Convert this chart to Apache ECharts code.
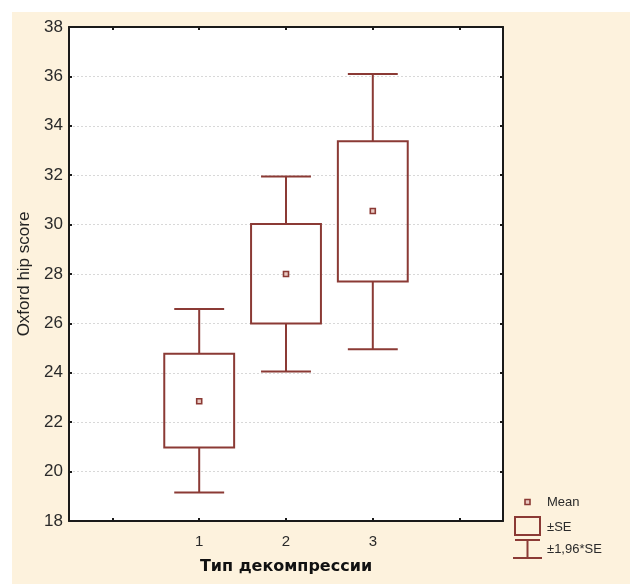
<!DOCTYPE html>
<html>
<head>
<meta charset="utf-8">
<script src="https://cdn.jsdelivr.net/npm/echarts@6/dist/echarts.min.js"></script>
<style>
html,body{margin:0;padding:0;background:#fff;}
#c{width:630px;height:584px;}
</style>
</head>
<body>
<div id="c"></div>
<script>
// Data
var categories = ['', '1', '2', '3', ''];
var groupIndex = [1, 2, 3];
var means  = [22.85, 28.0, 30.55];
var seLow  = [20.98, 26.0, 27.70];
var seHigh = [24.77, 30.02, 33.37];
var ciLow  = [19.15, 24.05, 24.95];
var ciHigh = [26.58, 31.95, 36.10];
var yTicks = [18, 20, 22, 24, 26, 28, 30, 32, 34, 36, 38];

var COLOR = '#8b3a35';
var FONT = "'Liberation Sans', Arial, sans-serif";

var seriesData = groupIndex.map(function (g, i) {
  return [g, ciLow[i], seLow[i], means[i], seHigh[i], ciHigh[i]];
});

function renderItem(params, api) {
  var x = api.value(0);
  var pCiL = api.coord([x, api.value(1)]);
  var pSeL = api.coord([x, api.value(2)]);
  var pM   = api.coord([x, api.value(3)]);
  var pSeH = api.coord([x, api.value(4)]);
  var pCiH = api.coord([x, api.value(5)]);
  var band = api.size([1, 0])[0];
  var bw = band * 0.805, cw = band * 0.575;
  var cx = pM[0];
  var ls = { stroke: COLOR, lineWidth: 2, fill: null };
  return {
    type: 'group',
    children: [
      { type: 'line', shape: { x1: cx, y1: pCiH[1], x2: cx, y2: pSeH[1] }, style: ls },
      { type: 'line', shape: { x1: cx - cw / 2, y1: pCiH[1], x2: cx + cw / 2, y2: pCiH[1] }, style: ls },
      { type: 'line', shape: { x1: cx, y1: pSeL[1], x2: cx, y2: pCiL[1] }, style: ls },
      { type: 'line', shape: { x1: cx - cw / 2, y1: pCiL[1], x2: cx + cw / 2, y2: pCiL[1] }, style: ls },
      { type: 'rect', shape: { x: cx - bw / 2, y: pSeH[1], width: bw, height: pSeL[1] - pSeH[1] }, style: { stroke: COLOR, lineWidth: 2, fill: null } },
      { type: 'rect', shape: { x: cx - 2.5, y: pM[1] - 2.5, width: 5, height: 5 }, style: { stroke: COLOR, lineWidth: 1.6, fill: '#e8c8c0' } }
    ]
  };
}

var chart = echarts.init(document.getElementById('c'), null, { renderer: 'canvas' });

var axisLineStyle = { show: true, lineStyle: { color: '#1a1a1a', width: 2 } };
var tickIn = { show: true, inside: true, length: 3, lineStyle: { color: '#1a1a1a', width: 2 } };

chart.setOption({
  backgroundColor: 'transparent',
  animation: false,
  graphic: [
    { type: 'rect', z: -10, silent: true, shape: { x: 12, y: 12, width: 618, height: 572 }, style: { fill: '#fdf2dd' } },
    // legend
    { type: 'rect', z: 10, shape: { x: 525, y: 499.5, width: 5, height: 5 }, style: { stroke: COLOR, lineWidth: 1.6, fill: '#e8c8c0' } },
    { type: 'text', z: 10, style: { x: 547, y: 502, text: 'Mean', fill: '#2a2a2a', font: "13px " + FONT, verticalAlign: 'middle' } },
    { type: 'rect', z: 10, shape: { x: 515, y: 517, width: 25, height: 18 }, style: { stroke: COLOR, lineWidth: 2, fill: null } },
    { type: 'text', z: 10, style: { x: 547, y: 527, text: '±SE', fill: '#2a2a2a', font: "13px " + FONT, verticalAlign: 'middle' } },
    { type: 'line', z: 10, shape: { x1: 515, y1: 540, x2: 540, y2: 540 }, style: { stroke: COLOR, lineWidth: 2 } },
    { type: 'line', z: 10, shape: { x1: 527.5, y1: 540, x2: 527.5, y2: 558 }, style: { stroke: COLOR, lineWidth: 2 } },
    { type: 'line', z: 10, shape: { x1: 513, y1: 558, x2: 542, y2: 558 }, style: { stroke: COLOR, lineWidth: 2 } },
    { type: 'text', z: 10, style: { x: 547, y: 549, text: '±1,96*SE', fill: '#2a2a2a', font: "13px " + FONT, verticalAlign: 'middle' } }
  ],
  grid: { left: 69, right: 127, top: 27, bottom: 63, show: true, backgroundColor: '#ffffff', borderWidth: 0 },
  xAxis: [
    {
      type: 'category', data: categories, position: 'bottom',
      axisLine: axisLineStyle,
      axisTick: { show: true, inside: true, length: 3, alignWithLabel: true, lineStyle: { color: '#1a1a1a', width: 2 } },
      axisLabel: { show: true, color: '#2a2a2a', fontFamily: FONT, fontSize: 15, margin: 13 },
      name: 'Тип декомпрессии', nameLocation: 'middle', nameGap: 38,
      nameTextStyle: { color: '#111', fontWeight: 'bold', fontSize: 16, fontFamily: "'DejaVu Sans', sans-serif" },
      splitLine: { show: false }
    },
    {
      type: 'category', data: categories, position: 'top',
      axisLine: axisLineStyle,
      axisTick: { show: true, inside: true, length: 3, alignWithLabel: true, lineStyle: { color: '#1a1a1a', width: 2 } },
      axisLabel: { show: false }, splitLine: { show: false }
    }
  ],
  yAxis: [
    {
      type: 'value', min: 18, max: 38, interval: 2, position: 'left',
      axisLine: axisLineStyle, axisTick: tickIn,
      axisLabel: { color: '#2a2a2a', fontFamily: FONT, fontSize: 17, margin: 6,
        formatter: function (v) { return yTicks.indexOf(v) >= 0 ? String(v) : ''; } },
      splitLine: { show: true, lineStyle: { color: '#d8d8d8', type: [2, 2], width: 1 } },
      name: 'Oxford hip score', nameLocation: 'middle', nameGap: 34, nameRotate: 90,
      nameTextStyle: { color: '#222', fontSize: 17, fontFamily: FONT }
    },
    {
      type: 'value', min: 18, max: 38, interval: 2, position: 'right',
      axisLine: axisLineStyle, axisTick: tickIn,
      axisLabel: { show: false }, splitLine: { show: false }
    }
  ],
  series: [{
    type: 'custom',
    xAxisIndex: 0, yAxisIndex: 0,
    renderItem: renderItem,
    encode: { x: 0, y: [1, 2, 3, 4, 5] },
    data: seriesData,
    z: 5
  }]
});
</script>
</body>
</html>
